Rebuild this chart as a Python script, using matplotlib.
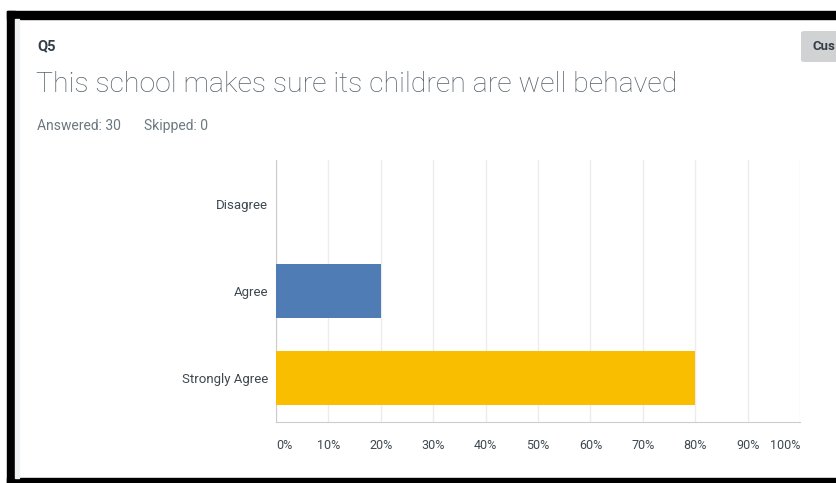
import matplotlib
matplotlib.use("Agg")
import matplotlib.pyplot as plt
from matplotlib.patches import Rectangle, FancyBboxPatch
from matplotlib.ticker import FuncFormatter

categories = ["Disagree", "Agree", "Strongly Agree"]
values = [0, 20, 80]
bar_colors = ["#507cb6", "#507cb6", "#f9be00"]
xticks = [0, 10, 20, 30, 40, 50, 60, 70, 80, 90, 100]

W, H = 837, 483
fig = plt.figure(figsize=(W / 100, H / 100), dpi=100)
fig.patch.set_facecolor("white")

def fx(px):
    return px / W

def fy(py):
    return 1 - py / H

# black frame pieces
fig.patches.append(Rectangle((fx(7), fy(19)), fx(837 - 7), 8 / H, transform=fig.transFigure, color="black", zorder=0))
fig.patches.append(Rectangle((fx(7), fy(483)), 8 / W, (483 - 11) / H, transform=fig.transFigure, color="black", zorder=0))
fig.patches.append(Rectangle((fx(7), fy(483)), fx(837 - 7), 5 / H, transform=fig.transFigure, color="black", zorder=0))
fig.patches.append(Rectangle((fx(15), fy(478)), 4 / W, (478 - 19) / H, transform=fig.transFigure, color="#eef0f1", zorder=0))

# button (cut off by the right edge in the reference)
fig.patches.append(FancyBboxPatch((fx(801), fy(62)), fx(60), 31 / H, boxstyle="round,pad=0,rounding_size=0.004",
                                  transform=fig.transFigure, facecolor="#d0d2d3", edgecolor="none", zorder=1))
fig.text(fx(813), fy(46), "Cus", fontsize=9.5, fontweight="bold", color="#333e48",
         family="Roboto", va="center", ha="left", zorder=2)

fig.text(fx(37), fy(46), "Q5", fontsize=10.5, fontweight="bold", color="#333e48", family="Roboto", va="center")
fig.text(fx(36), fy(84), "This school makes sure its children are well behaved", fontsize=20.5,
         fontweight="light", color="#56626a", family="Roboto", va="center")
fig.text(fx(37), fy(126), "Answered: 30", fontsize=10, color="#6b787f", family="Roboto", va="center")
fig.text(fx(144), fy(126), "Skipped: 0", fontsize=10, color="#6b787f", family="Roboto", va="center")

ax = fig.add_axes([fx(276), fy(422), fx(800) - fx(276), fy(160) - fy(422)])
ypos = list(range(len(categories)))
ax.barh(ypos, values, height=0.62, color=bar_colors, zorder=3)
ax.set_xlim(0, 100)
ax.set_ylim(len(categories) - 0.5, -0.5)
ax.set_yticks(ypos)
ax.set_yticklabels(categories, fontsize=9.5, color="#3d4850", family="Roboto")
ax.set_xticks(xticks)
ax.xaxis.set_major_formatter(FuncFormatter(lambda v, p: f"{int(v)}%"))
ax.tick_params(axis="both", length=0)
ax.tick_params(axis="x", pad=12)
ax.tick_params(axis="y", pad=5.5)
xlabels = ax.get_xticklabels()
for lab in xlabels:
    lab.set_fontsize(9)
    lab.set_color("#3d4850")
    lab.set_family("Roboto")
xlabels[0].set_horizontalalignment("left")
xlabels[-1].set_horizontalalignment("right")
ax.grid(axis="x", color="#ececec", linewidth=1, zorder=0)
for s in ["top", "right"]:
    ax.spines[s].set_visible(False)
ax.spines["left"].set_color("#cccccc")
ax.spines["bottom"].set_color("#cccccc")
ax.set_facecolor("white")

fig.savefig("out.png", dpi=100)
